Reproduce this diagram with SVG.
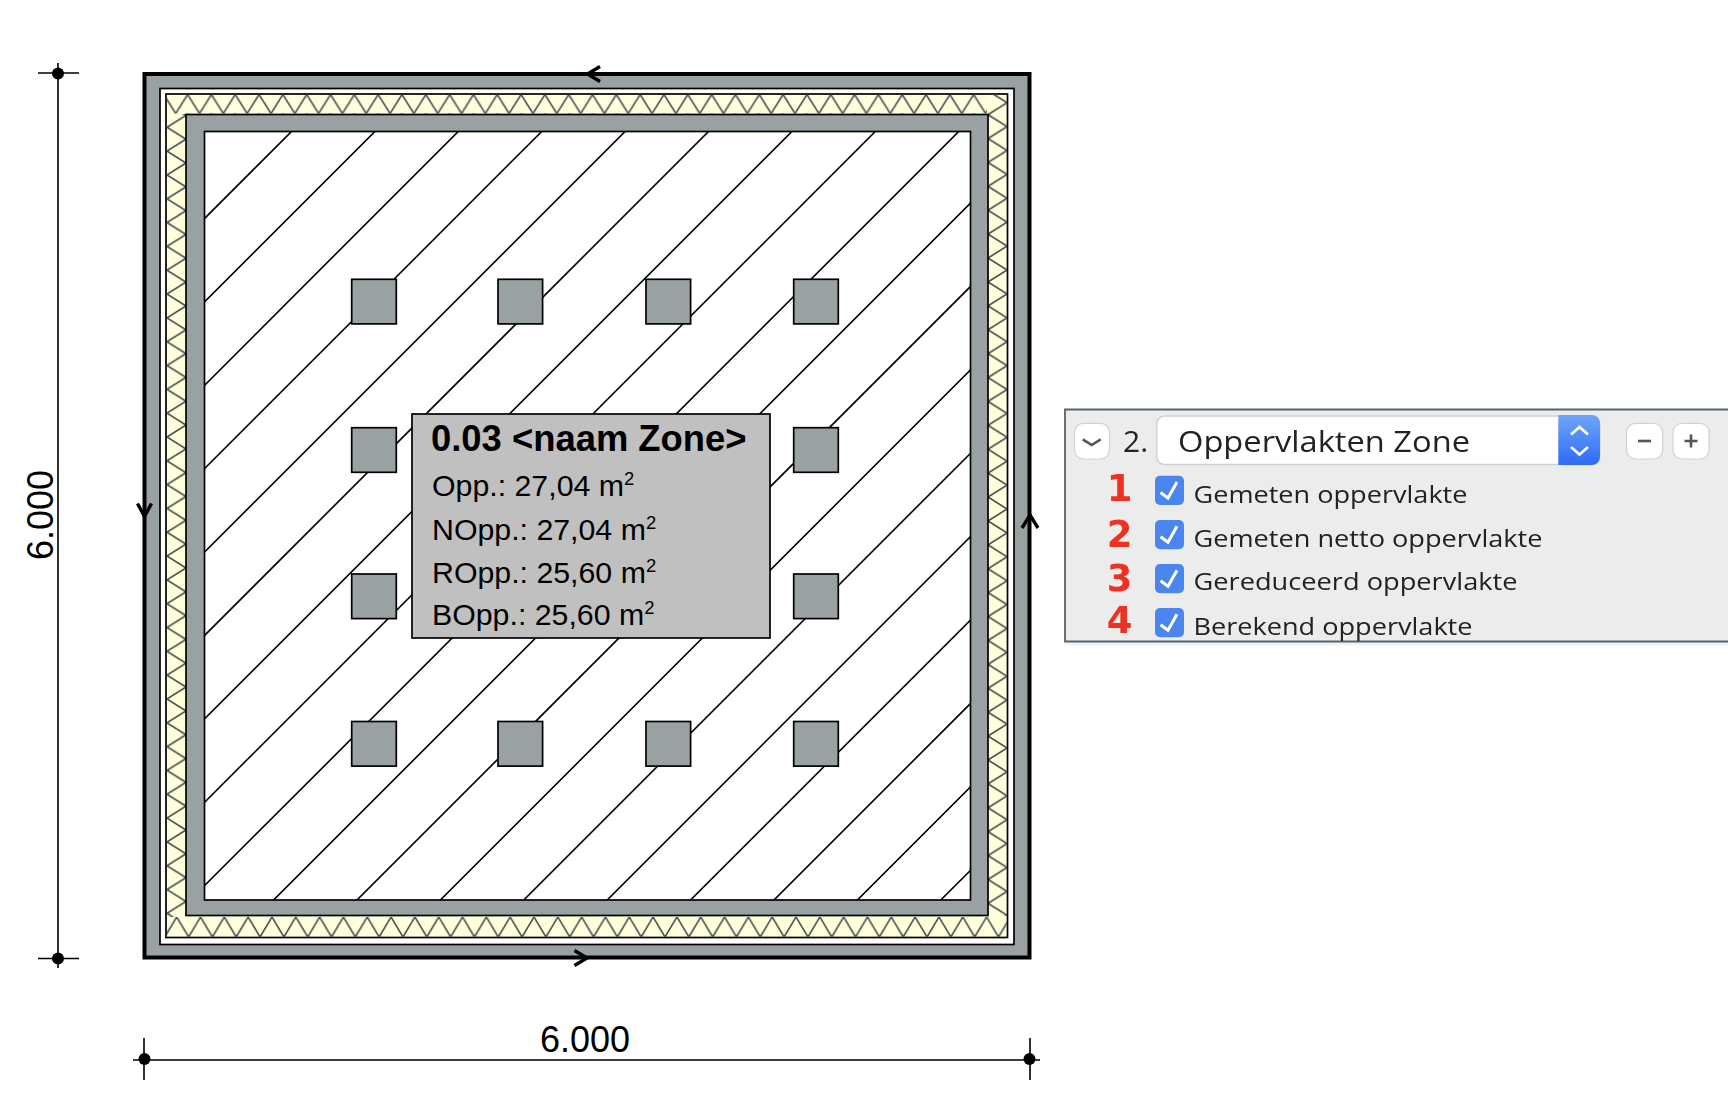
<svg xmlns="http://www.w3.org/2000/svg" width="1728" height="1118" viewBox="0 0 1728 1118">
<style>
text{font-family:"Liberation Sans",Arial,sans-serif;fill:#000}
.wall{fill:#9aa1a3;stroke:#000;stroke-width:1.7}
.col{fill:#9aa1a3;stroke:#000;stroke-width:1.7}
.zz{fill:none;stroke:#4a4f52;stroke-width:1.6}
.dim{fill:none;stroke:#000;stroke-width:1.6}
.arr{fill:none;stroke:#000;stroke-width:3.4}
.z1{font-size:30.3px}
.sup{font-size:18.5px}
.ui{font-family:"Open Sans","Liberation Sans",sans-serif;fill:#222}
.lab{font-size:24.5px}
.red{font-family:"DejaVu Sans","Liberation Sans",sans-serif;font-weight:700;font-size:37px;fill:#ee3124;text-anchor:middle}
.btn{fill:#fff;stroke:#d2d2d2;stroke-width:1.2}
.cb{fill:#4c85ee}
.ck{fill:none;stroke:#fff;stroke-width:3}
.gl{fill:none;stroke:#555;stroke-width:2.6}
</style>
<defs>
<pattern id="zzTop" patternUnits="userSpaceOnUse" x="175.7" y="94.5" width="23.82" height="19"><path class="zz" d="M-11.91 0L0 19L11.91 0L23.82 19L35.73 0"/></pattern>
<pattern id="zzBot" patternUnits="userSpaceOnUse" x="176.7" y="917" width="23.82" height="20"><path class="zz" d="M-11.91 20L0 0L11.91 20L23.82 0L35.73 20"/></pattern>
<pattern id="zzLeft" patternUnits="userSpaceOnUse" x="167" y="127.3" width="19" height="23.82"><path class="zz" d="M19 -11.91L0 0L19 11.91L0 23.82L19 35.73"/></pattern>
<pattern id="zzRight" patternUnits="userSpaceOnUse" x="988" y="102.7" width="19" height="23.9"><path class="zz" d="M0 -11.95L19 0L0 11.95L19 23.9L0 35.85"/></pattern>
<clipPath id="room"><rect x="204.5" y="131.5" width="766" height="768.5"/></clipPath>
<linearGradient id="blue" x1="0" y1="0" x2="0" y2="1"><stop offset="0" stop-color="#6fa5f8"/><stop offset="1" stop-color="#2e6bf6"/></linearGradient>
<filter id="soft" x="-2%" y="-2%" width="104%" height="104%"><feGaussianBlur stdDeviation="0.5"/></filter>
</defs>

<g id="walls">
<rect class="wall" style="stroke-width:4" x="144.5" y="74" width="885" height="883.5"/>
<rect x="160" y="88.5" width="854" height="856" fill="#fff" stroke="#000" stroke-width="1.7"/>
<rect x="166" y="94" width="841.5" height="843.5" fill="#ffffdc" stroke="#000" stroke-width="1.7"/>
<rect x="167" y="94.5" width="820" height="20" fill="url(#zzTop)"/>
<rect x="167" y="917" width="840" height="20" fill="url(#zzBot)"/>
<rect x="167" y="114" width="19" height="803" fill="url(#zzLeft)"/>
<rect x="988" y="94.5" width="19" height="821.5" fill="url(#zzRight)"/>
<rect class="wall" x="186" y="114.5" width="802" height="801"/>
<rect x="204.5" y="131.5" width="766" height="768.5" fill="#fff" stroke="#000" stroke-width="1.7"/>
</g>

<g id="hatch" clip-path="url(#room)">
<path fill="none" stroke="#000" stroke-width="1.6" d="M293 130L-479 902M376.4 130L-395.6 902M459.8 130L-312.2 902M543.2 130L-228.8 902M626.6 130L-145.4 902M710 130L-62 902M793.4 130L21.4 902M876.8 130L104.8 902M960.2 130L188.2 902M1043.6 130L271.6 902M1127 130L355 902M1210.4 130L438.4 902M1293.8 130L521.8 902M1377.2 130L605.2 902M1460.6 130L688.6 902M1544 130L772 902M1627.4 130L855.4 902M1710.8 130L938.8 902"/>
</g>

<g id="columns">
<rect class="col" x="351.7" y="279.3" width="44.6" height="44.6"/>
<rect class="col" x="498" y="279.3" width="44.6" height="44.6"/>
<rect class="col" x="646" y="279.3" width="44.6" height="44.6"/>
<rect class="col" x="793.7" y="279.3" width="44.6" height="44.6"/>
<rect class="col" x="351.7" y="427.7" width="44.6" height="44.6"/>
<rect class="col" x="793.7" y="427.7" width="44.6" height="44.6"/>
<rect class="col" x="351.7" y="574" width="44.6" height="44.6"/>
<rect class="col" x="793.7" y="574" width="44.6" height="44.6"/>
<rect class="col" x="351.7" y="721.5" width="44.6" height="44.6"/>
<rect class="col" x="498" y="721.5" width="44.6" height="44.6"/>
<rect class="col" x="646" y="721.5" width="44.6" height="44.6"/>
<rect class="col" x="793.7" y="721.5" width="44.6" height="44.6"/>
</g>

<g id="zone-label">
<rect x="412" y="414" width="358" height="224" fill="#c0c0c0" stroke="#000" stroke-width="1.7"/>
<text x="431" y="450.500" font-size="36.400" font-weight="700">0.03 &lt;naam Zone&gt;</text>
<text class="z1" x="432" y="495.700">Opp.: 27,04 m<tspan class="sup" dy="-11">2</tspan></text>
<text class="z1" x="432" y="539.500">NOpp.: 27,04 m<tspan class="sup" dy="-11">2</tspan></text>
<text class="z1" x="432" y="583.300">ROpp.: 25,60 m<tspan class="sup" dy="-11">2</tspan></text>
<text class="z1" x="432" y="625">BOpp.: 25,60 m<tspan class="sup" dy="-11">2</tspan></text>
</g>

<g id="connectors">
<path class="arr" d="M137.500 503.500L144.500 516.500L151.500 503.500"/>
<path class="arr" d="M600 66.500L587.500 74L600 81.500"/>
<path class="arr" d="M1022 528L1030 515L1038 528"/>
<path class="arr" d="M574.500 950.500L587 958L574.500 965.500"/>
<g id="dim-vertical">
<path class="dim" d="M58 63V968M38 73H79M38 958.500H79"/>
<circle cx="58" cy="73.500" r="6"/><circle cx="58" cy="958.500" r="6"/>
</g>
<g id="dim-horizontal">
<path class="dim" d="M133 1060H1040M144 1038V1080M1030 1038V1080"/>
<circle cx="144.500" cy="1059" r="6"/><circle cx="1029.500" cy="1059" r="6"/>
</g>
</g>
<text x="52.500" y="515" font-size="36" text-anchor="middle" transform="rotate(-90 52.500 515)">6.000</text>
<text x="585" y="1051.700" font-size="36" text-anchor="middle">6.000</text>

<g id="panel" filter="url(#soft)">
<rect x="1064" y="642" width="664" height="3.500" fill="#f3f3f3"/>
<path d="M1728 409.500H1065V641.500H1728Z" fill="#ececec"/>
<path d="M1728 409.500H1065V641.500H1728" fill="none" stroke="#56646e" stroke-width="1.800"/>
<g id="chevron-button">
<rect class="btn" x="1074.500" y="423.300" width="35" height="35.700" rx="9"/>
<path class="gl" d="M1082.700 439.300L1091.700 445L1100.700 439.300"/>
</g>
<text class="ui" x="1123" y="451.700" font-size="30">2.</text>
<g id="zone-select">
<rect x="1156.700" y="416" width="443" height="48.500" rx="8" fill="#fff" stroke="#d0d0d0" stroke-width="1.500"/>
<path d="M1558.300 415H1592a8 8 0 0 1 8 8V457a8 8 0 0 1-8 8H1558.300Z" fill="url(#blue)"/>
<path d="M1571 434.500L1579.500 427L1588 434.500M1571 447L1579.500 454.500L1588 447" fill="none" stroke="#fff" stroke-width="2.600"/>
<text class="ui" x="1178" y="451.700" font-size="30" textLength="292" lengthAdjust="spacingAndGlyphs">Oppervlakten Zone</text>
</g>
<g id="minus-button">
<rect class="btn" x="1626.600" y="423.300" width="36" height="35.700" rx="9"/>
<path class="gl" d="M1638 441H1651"/>
</g>
<g id="plus-button">
<rect class="btn" x="1673" y="423.300" width="36" height="35.700" rx="9"/>
<path class="gl" d="M1684.500 441H1697.500M1691 434.500V447.500"/>
</g>
<g id="row-1">
<rect class="cb" x="1155" y="475.700" width="29" height="29.300" rx="5"/>
<path class="ck" d="M1160.500 492.500L1168 498L1177 482"/>
<text class="ui lab" x="1193.500" y="502.700" textLength="274" lengthAdjust="spacingAndGlyphs">Gemeten oppervlakte</text>
<text class="red" x="1119.500" y="500.700">1</text>
</g>
<g id="row-2">
<rect class="cb" x="1155" y="520" width="29" height="29.300" rx="5"/>
<path class="ck" d="M1160.500 536.800L1168 542.300L1177 526.300"/>
<text class="ui lab" x="1193.500" y="546.700" textLength="349" lengthAdjust="spacingAndGlyphs">Gemeten netto oppervlakte</text>
<text class="red" x="1119.500" y="546.700">2</text>
</g>
<g id="row-3">
<rect class="cb" x="1155" y="564" width="29" height="29.300" rx="5"/>
<path class="ck" d="M1160.500 580.800L1168 586.300L1177 570.300"/>
<text class="ui lab" x="1193.500" y="590" textLength="324" lengthAdjust="spacingAndGlyphs">Gereduceerd oppervlakte</text>
<text class="red" x="1119.500" y="590.500">3</text>
</g>
<g id="row-4">
<rect class="cb" x="1155" y="608" width="29" height="29.300" rx="5"/>
<path class="ck" d="M1160.500 624.800L1168 630.300L1177 614.300"/>
<text class="ui lab" x="1193.500" y="635" textLength="279" lengthAdjust="spacingAndGlyphs">Berekend oppervlakte</text>
<text class="red" x="1119.500" y="633">4</text>
</g>
</g>
</svg>
